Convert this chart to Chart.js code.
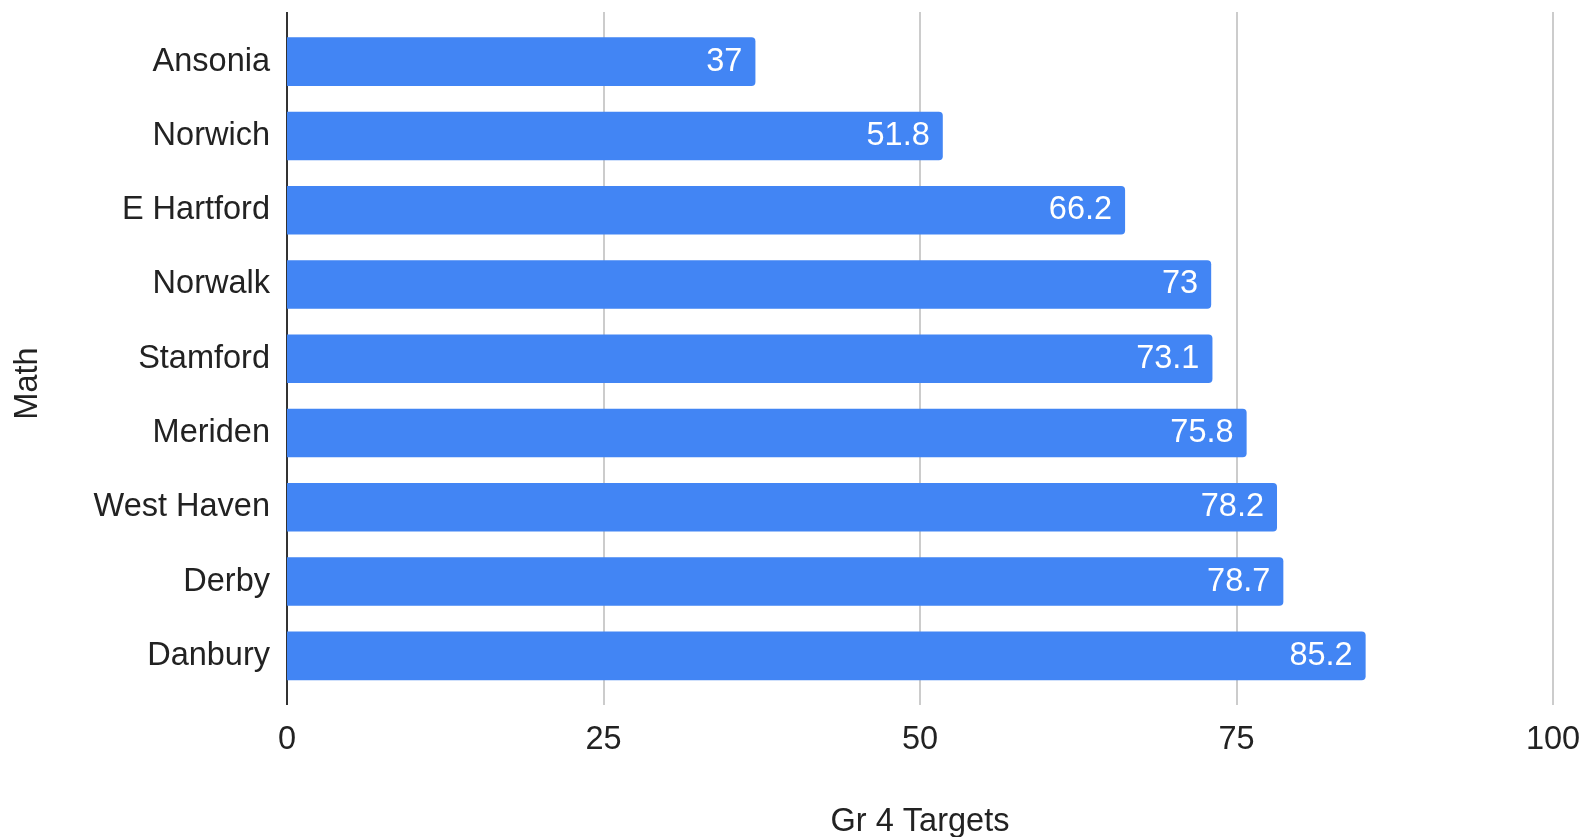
<!DOCTYPE html>
<html>
<head>
<meta charset="utf-8">
<script src="https://cdn.jsdelivr.net/npm/chart.js@4.4.0/dist/chart.umd.min.js"></script>
<style>
  body { margin: 0; background: #fff; }
  #lienzo { display: block; }
</style>
</head>
<body>
<canvas id="lienzo" width="1587" height="837"></canvas>
<script>
const distritos = ['Ansonia', 'Norwich', 'E Hartford', 'Norwalk', 'Stamford', 'Meriden', 'West Haven', 'Derby', 'Danbury']
const metas = [37, 51.8, 66.2, 73, 73.1, 75.8, 78.2, 78.7, 85.2]
const marcas = [0, 25, 50, 75, 100]

const fuente = 'Arial, "Liberation Sans", sans-serif'
const tam = 32.5
const azul = '#4285f4'

// vertical grid lines, a bit taller than the plot area like the original
const rejilla = {
    id: 'rejilla',
    beforeDatasetsDraw(chart) {
        const ctx = chart.ctx
        const area = chart.chartArea
        const x = chart.scales.x
        ctx.save()
        marcas.forEach(v => {
            const px = Math.round(x.getPixelForValue(v))
            ctx.beginPath()
            ctx.lineWidth = 2
            ctx.strokeStyle = v === 0 ? '#333333' : '#cccccc'
            ctx.moveTo(px, area.top - 12.5)
            ctx.lineTo(px, area.bottom + 12)
            ctx.stroke()
        })
        ctx.restore()
    }
}

// value written inside the end of each bar, plus the rotated axis name
const etiquetas = {
    id: 'etiquetas',
    afterDatasetsDraw(chart) {
        const ctx = chart.ctx
        const meta = chart.getDatasetMeta(0)
        ctx.save()
        ctx.fillStyle = '#ffffff'
        ctx.font = tam + 'px ' + fuente
        ctx.textAlign = 'right'
        ctx.textBaseline = 'middle'
        meta.data.forEach((bar, i) => {
            ctx.fillText(String(metas[i]), bar.x - 13, bar.y)
        })
        ctx.restore()

        ctx.save()
        ctx.fillStyle = '#222222'
        ctx.font = tam + 'px ' + fuente
        ctx.textAlign = 'center'
        ctx.textBaseline = 'middle'
        ctx.translate(28, 383.5)
        ctx.rotate(-Math.PI / 2)
        ctx.fillText('Math', 0, 0)
        ctx.restore()
    }
}

new Chart(document.getElementById('lienzo'), {
    type: 'bar',
    data: {
        labels: distritos,
        datasets: [{
            data: metas,
            backgroundColor: azul,
            borderRadius: 4,
            borderSkipped: 'start',
            barPercentage: 0.654,
            categoryPercentage: 1
        }]
    },
    options: {
        indexAxis: 'y',
        responsive: false,
        animation: false,
        layout: { padding: { top: 24.5, right: 34, left: 0, bottom: 0 } },
        plugins: {
            legend: { display: false },
            tooltip: { enabled: false }
        },
        scales: {
            x: {
                min: 0,
                max: 100,
                afterFit: (s) => {
                    s.height = 144
                    s.paddingLeft = 0
                    s.paddingRight = 0
                },
                afterBuildTicks: (s) => { s.ticks = marcas.map(v => ({ value: v })) },
                grid: { display: false, drawTicks: false },
                border: { display: false },
                ticks: {
                    padding: 27.5,
                    color: '#222222',
                    font: { size: tam, family: fuente }
                },
                title: {
                    display: true,
                    text: 'Gr 4 Targets',
                    color: '#222222',
                    padding: { top: 0, bottom: -1.5 },
                    font: { size: tam, family: fuente, lineHeight: 1 }
                }
            },
            y: {
                afterFit: (s) => {
                    s.width = 287
                    s.paddingTop = 0
                    s.paddingBottom = 0
                },
                grid: { display: false, drawTicks: false },
                border: { display: false },
                ticks: {
                    padding: 17,
                    color: '#222222',
                    font: { size: tam, family: fuente }
                }
            }
        }
    },
    plugins: [rejilla, etiquetas]
})
</script>
</body>
</html>
